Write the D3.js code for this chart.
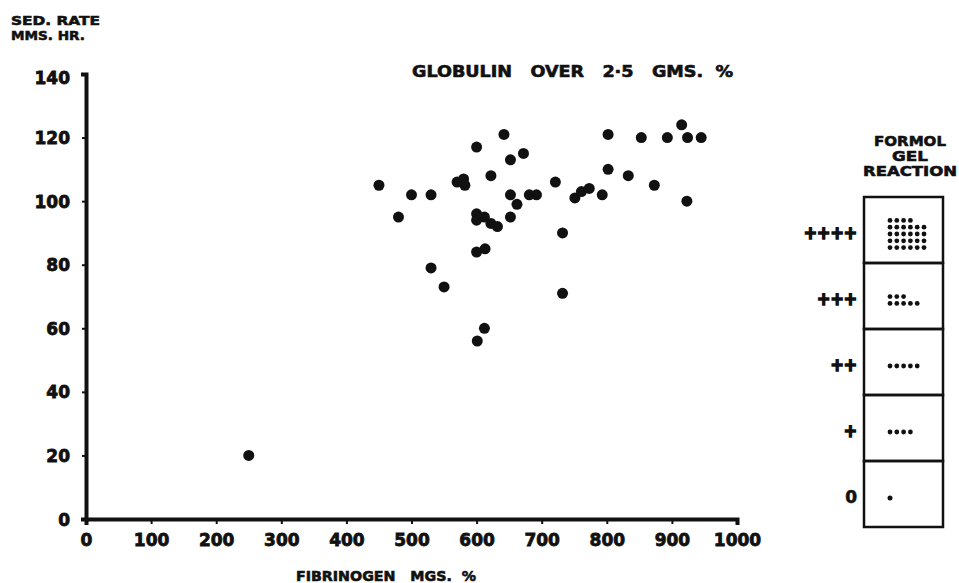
<!DOCTYPE html>
<html>
<head>
<meta charset="utf-8">
<script src="https://cdn.jsdelivr.net/npm/d3@7"></script>
<style>
  html, body { margin: 0; padding: 0; background: #fff; }
  svg { display: block; }
  text { font-family: "DejaVu Sans", sans-serif; font-weight: bold; fill: #111; stroke: #111; stroke-width: 0.6px; }
</style>
</head>
<body>
<svg id="chart" width="959" height="583"></svg>
<script>
// ---- data ----
const fibrinogen = [450,480,500,530,530,550,570,580,582,600,600,612,600,622,632,622,642,652,672,652,662,652,681,692,721,732,732,600,613,612,601,751,761,773,793,802,802,833,853,873,893,915,924,945,923,250];
const sedRate    = [105, 95,102,102, 79, 73,106,107,105,117, 96, 95, 94, 93, 92,108,121,113,115,102, 99, 95,102,102,106, 90, 71, 84, 85, 60, 56,101,103,104,102,121,110,108,120,105,120,124,120,120,100, 20];
const xTicks = [0,100,200,300,400,500,600,700,800,900,1000];
const yTicks = [0,20,40,60,80,100,120,140];
const formolLevels = ["++++","+++","++","+","0"];
const formolDotRows = [[4,6,6,6,6],[3,5],[5],[4],[1]];
const titleText = "GLOBULIN   OVER   2·5   GMS.  %";
const xLabel = "FIBRINOGEN   MGS.  %";
const yLabelLines = ["SED. RATE", "MMS. HR."];
const legendTitle = ["FORMOL", "GEL", "REACTION"];

// ---- chart ----
const svg = d3.select("#chart");
const ink = "#111";
const font = '"DejaVu Sans", sans-serif';

const x = d3.scaleLinear().domain([0, 1000]).range([86, 737]);
const y = d3.scaleLinear().domain([0, 140]).range([519, 74]);

// x axis
const gx = svg.append("g").attr("transform", `translate(0,${y(0)})`)
  .call(d3.axisBottom(x).tickValues(xTicks).tickFormat(d3.format("d")).tickSize(5).tickSizeOuter(6));
gx.select(".domain").attr("stroke", ink).attr("stroke-width", 4).attr("fill", "none");
gx.selectAll(".tick line").attr("stroke", ink).attr("stroke-width", 2);
gx.selectAll(".tick text").attr("y", 27).attr("dy", 0).attr("font-size", 17)
  .style("font-family", font).style("font-weight", "bold").style("stroke-width", "0.8px").attr("fill", ink);

// y axis
const gy = svg.append("g").attr("transform", `translate(${x(0)},0)`)
  .call(d3.axisLeft(y).tickValues(yTicks).tickFormat(d3.format("d")).tickSize(4).tickSizeOuter(5));
gy.select(".domain").attr("stroke", ink).attr("stroke-width", 4).attr("fill", "none");
gy.selectAll(".tick line").attr("stroke", ink).attr("stroke-width", 2);
gy.selectAll(".tick text").attr("x", -16).attr("dy", "0.36em").attr("font-size", 17)
  .style("font-family", font).style("font-weight", "bold").style("stroke-width", "0.8px").attr("fill", ink);
gy.selectAll(".tick").filter(d => d === 140).select("text").attr("dy", "0.55em");

// points
svg.append("g").selectAll("circle")
  .data(fibrinogen.map((f, i) => ({f, s: sedRate[i]})))
  .join("circle")
  .attr("cx", d => x(d.f))
  .attr("cy", d => y(d.s))
  .attr("r", 5.5)
  .attr("fill", ink);

// titles
svg.append("text").attr("x", 412).attr("y", 77).attr("font-size", 15)
  .attr("textLength", 321).attr("lengthAdjust", "spacingAndGlyphs")
  .style("white-space", "pre").text(titleText);

svg.append("text").attr("x", 296).attr("y", 581).attr("font-size", 14)
  .attr("textLength", 180).attr("lengthAdjust", "spacingAndGlyphs")
  .style("white-space", "pre").text(xLabel);

svg.selectAll("text.ylab").data(yLabelLines).join("text").attr("class", "ylab")
  .attr("x", 11).attr("y", (d, i) => 25 + i * 15).attr("font-size", 13)
  .attr("textLength", (d, i) => i === 0 ? 89 : 74).attr("lengthAdjust", "spacingAndGlyphs")
  .text(d => d);

// formol gel legend
const band = d3.scaleBand().domain(formolLevels).range([197, 527]);
const boxX0 = 864, boxX1 = 943;
const lg = svg.append("g");
lg.selectAll("rect").data(formolLevels).join("rect")
  .attr("x", boxX0).attr("y", d => band(d))
  .attr("width", boxX1 - boxX0).attr("height", band.bandwidth())
  .attr("fill", "none").attr("stroke", ink).attr("stroke-width", 2.5);

lg.selectAll("text.lvl").data(formolLevels).join("text").attr("class", "lvl")
  .attr("x", 857).attr("y", d => band(d) + band.bandwidth() / 2 + 3)
  .attr("dy", "0.36em").attr("text-anchor", "end").attr("font-size", 17)
  .style("stroke-width", d => d === "0" ? "0.6px" : "1.6px")
  .attr("textLength", d => d === "0" ? null : d.length * 13.3).attr("lengthAdjust", "spacingAndGlyphs")
  .text(d => d);

const dotStep = 6.8;
formolLevels.forEach((lvl, i) => {
  const rows = formolDotRows[i];
  const cy0 = band(lvl) + band.bandwidth() / 2 + 4 - (rows.length - 1) * dotStep / 2;
  const dots = [];
  rows.forEach((n, r) => { for (let c = 0; c < n; c++) dots.push({r, c}); });
  lg.append("g").selectAll("circle").data(dots).join("circle")
    .attr("cx", d => 890 + d.c * dotStep)
    .attr("cy", d => cy0 + d.r * dotStep)
    .attr("r", i === 4 ? 2.5 : 2.4)
    .attr("fill", ink);
});

lg.selectAll("text.lt").data(legendTitle).join("text").attr("class", "lt")
  .attr("x", 910).attr("y", (d, i) => 146 + i * 15).attr("text-anchor", "middle")
  .attr("font-size", 14)
  .attr("textLength", (d, i) => [72, 36, 94][i]).attr("lengthAdjust", "spacingAndGlyphs")
  .text(d => d);
</script>
</body>
</html>
